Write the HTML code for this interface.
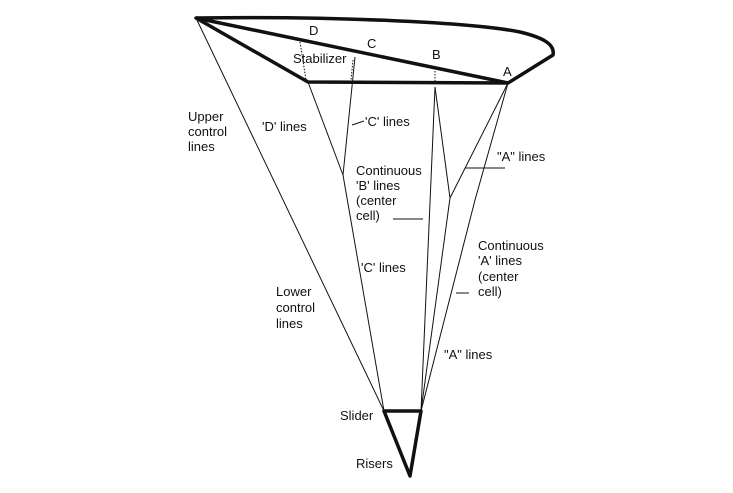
<!DOCTYPE html>
<html><head><style>
html,body{margin:0;padding:0;background:#fff}
svg text{font-family:"Liberation Sans",sans-serif;font-size:13px;fill:#111}
</style></head><body>
<svg width="733" height="488" viewBox="0 0 733 488" xmlns="http://www.w3.org/2000/svg">
<g fill="none" stroke="#111" stroke-linejoin="round">
<path d="M196 18 C330 16 470 22 520 32 C545 38 555 45 553 55 L508 83 L308 82 L196 18 Z" stroke-width="3.5"/>
<path d="M196 18 L508 83" stroke-width="3.5"/>
<path d="M384 411 L421 411 L410 476 Z" stroke-width="3.5"/>
<g stroke-width="1">
<path d="M196 18 L384 411"/>
<path d="M308 82 L343 175 L384 411"/>
<path d="M355 57 L343 175"/>
<path d="M435 87 L421 411"/>
<path d="M435 87 L450 198 L421 411"/>
<path d="M508 83 L450 198"/>
<path d="M508 83 L475 200 L421 411"/>
<path d="M300 42 L306 80 M353 60 L351 80 M435 68 L435 82" stroke-dasharray="1.5 1.5"/>
<path d="M352 125 L364 121 M393 219 L423 219 M465 168 L505 168 M456 293 L469 293"/>
</g>
</g>
<text x="309" y="35">D</text>
<text x="367" y="48">C</text>
<text x="432" y="59">B</text>
<text x="503" y="76">A</text>
<text x="293" y="63">Stabilizer</text>
<text x="188" y="121">Upper</text>
<text x="188" y="136">control</text>
<text x="188" y="151">lines</text>
<text x="262" y="131">'D' lines</text>
<text x="365" y="126">'C' lines</text>
<text x="356" y="175">Continuous</text>
<text x="356" y="190">'B' lines</text>
<text x="356" y="205">(center</text>
<text x="356" y="220">cell)</text>
<text x="497" y="161">"A" lines</text>
<text x="478" y="250">Continuous</text>
<text x="478" y="265">'A' lines</text>
<text x="478" y="281">(center</text>
<text x="478" y="296">cell)</text>
<text x="361" y="272">'C' lines</text>
<text x="276" y="296">Lower</text>
<text x="276" y="312">control</text>
<text x="276" y="328">lines</text>
<text x="444" y="359">"A" lines</text>
<text x="340" y="420">Slider</text>
<text x="356" y="468">Risers</text>
</svg>
</body></html>
